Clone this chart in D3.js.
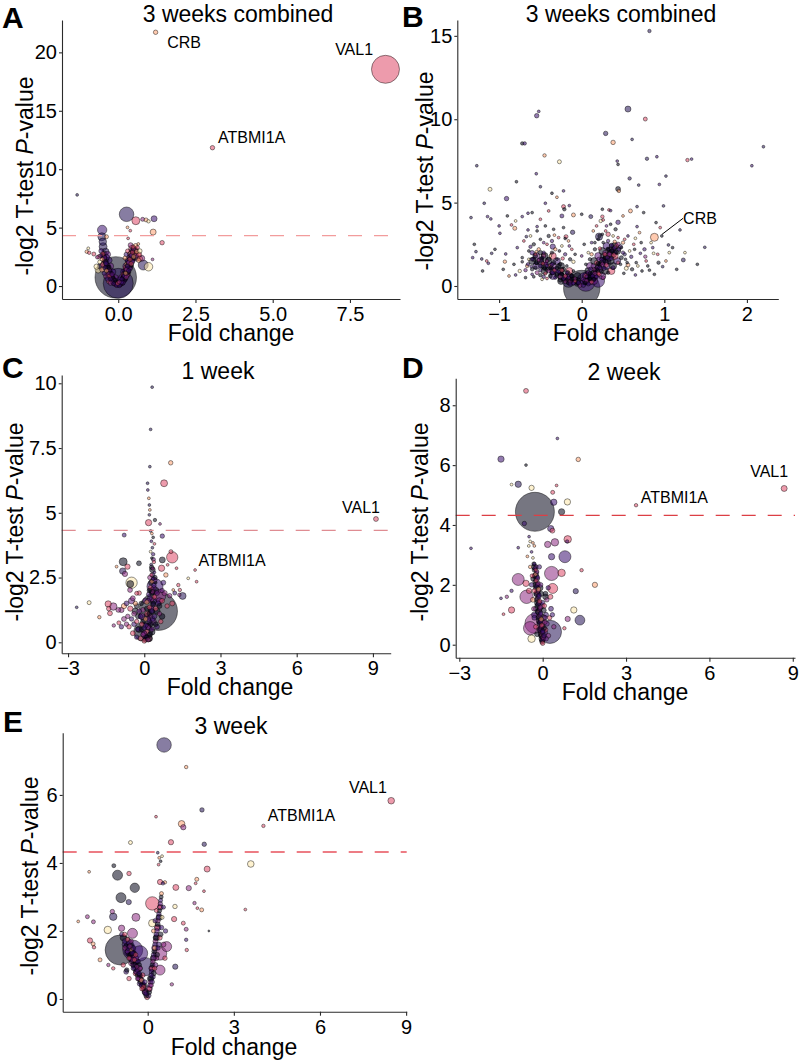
<!DOCTYPE html>
<html>
<head>
<meta charset="utf-8">
<script src="https://cdn.jsdelivr.net/npm/d3@7"></script>
<style>
  body { margin: 0; background: #fff; }
</style>
</head>
<body>
<svg id="fig" width="800" height="1063"></svg>
<script>
// ---- data: [fold change, -log2 p, abundance, tone, gene] ----
const titles = ["3 weeks combined", "3 weeks combined", "1 week", "2 week", "3 week"];
const pCutoff = 0.05;

const pointsA = [
  [8.65,18.55,196,0.6,"VAL1"],[1.21,21.72,5,0.8,"CRB"],[3.05,11.84,5,0.6,"ATBMI1A"],
  [-1.33,7.8,2,0.15],[0.27,6.14,53,0.15],[0.57,5.59,16,0.6],[0.79,5.71,4,0.4],[0.9,5.66,4,0.8],
  [0.98,5.54,3,0.95],[1.16,5.76,9,0.2],[1.13,4.62,9,0.8],[1.42,3.71,5,0.6],[0.3,5.02,2,0.8],
  [0.39,4.74,2,0.6],[0.65,3.6,2,0.8],[0.32,4.08,2,0.6],[1.11,2.28,2,0.4],[0.98,1.65,18,0.95],
  [0.81,1.8,25,0.15],[0.76,2.37,9,0.4],[-0.52,4.8,22,0.2],[-0.53,4.22,16,0.15],[-0.5,3.79,14,0.15],
  [-0.49,3.37,16,0.15],[-0.41,2.94,12,0.15],[-0.38,2.46,9,0.2],[-0.38,4.22,4,0.8],[-1.02,2.94,3,0.8],
  [-0.97,3.23,2,0.95],[-0.79,2.74,4,0.6],[-0.94,2.85,3,0.6],[-0.68,2.46,3,0.4],[-0.7,1.66,7,0.95],
  [-0.65,1.37,9,0.95],[-0.08,0.74,430,0.05],[0.0,0.23,225,0.15],[0.45,3.2,12,0.6],[0.55,2.9,9,0.4],
  [0.6,2.6,16,0.8],[0.7,2.35,7,0.6],[0.66,2.2,5,0.8],
  [-0.55,3.0,6,0.2],[-0.5,2.75,5,0.6],[-0.47,2.5,7,0.2],[-0.52,2.3,4,0.8],[-0.44,2.2,6,0.4],
  [-0.4,1.95,5,0.2],[-0.48,1.85,8,0.6],[-0.36,1.7,6,0.4],[-0.42,1.55,5,0.2],[-0.32,1.45,7,0.6],
  [-0.38,1.3,4,0.8],[-0.28,1.2,6,0.2],[-0.33,1.05,5,0.4],[-0.24,0.95,7,0.2],[-0.29,0.82,5,0.6],
  [-0.2,0.72,6,0.4],[-0.25,0.6,4,0.2],[-0.16,0.5,6,0.6],[-0.2,0.4,5,0.2],[-0.12,0.32,7,0.4],
  [-0.15,0.2,4,0.2],[-0.08,0.15,6,0.6],[-0.05,0.06,5,0.2],[-0.6,2.05,4,0.95],[-0.58,1.7,9,0.15],
  [-0.52,1.4,6,0.8],[-0.45,1.1,5,0.2],[-0.4,0.85,6,0.4],[-0.35,0.6,5,0.2],[-0.3,0.4,6,0.6],
  [-0.25,0.25,5,0.4],[-0.62,2.5,5,0.6],[-0.57,2.6,4,0.2],
  [0.04,0.05,5,0.2],[0.08,0.18,6,0.4],[0.1,0.3,5,0.2],[0.14,0.45,7,0.6],[0.12,0.6,4,0.2],
  [0.17,0.7,6,0.4],[0.2,0.85,5,0.2],[0.18,1.0,7,0.6],[0.24,1.1,4,0.8],[0.22,1.25,6,0.2],
  [0.27,1.4,5,0.4],[0.25,1.55,7,0.6],[0.3,1.7,5,0.2],[0.28,1.85,6,0.8],[0.34,2.0,5,0.4],
  [0.32,2.15,7,0.2],[0.38,2.3,5,0.6],[0.36,2.45,6,0.4],[0.42,2.6,5,0.2],[0.4,2.75,7,0.8],
  [0.46,2.9,5,0.6],[0.44,3.05,6,0.2],[0.5,3.2,5,0.4],[0.48,3.35,4,0.6],[0.55,3.1,6,0.2],
  [0.52,2.85,7,0.6],[0.5,2.5,5,0.8],[0.46,2.2,6,0.2],[0.42,1.9,5,0.6],[0.38,1.6,7,0.4],
  [0.34,1.3,5,0.2],[0.3,1.0,6,0.6],[0.26,0.75,5,0.4],[0.2,0.5,6,0.2],[0.58,2.6,6,0.4],
  [0.6,2.95,5,0.8],[0.3,3.0,4,0.6],[0.26,2.7,5,0.2],[0.22,2.4,4,0.8],[0.62,3.3,4,0.6],
  [0.56,3.45,5,0.8],[0.4,3.5,6,0.4],[0.7,3.0,5,0.95],[0.68,2.7,6,0.6],
  [0.0,0.1,6,0.2],[-0.02,0.25,5,0.6],[0.03,0.35,4,0.4],
  [-0.5,2.6,6,0.05],[-0.45,2.4,6,0.3],[-0.42,2.1,6,0.05],[-0.38,1.85,6,0.2],[-0.35,1.6,6,0.05],
  [-0.3,1.35,6,0.3],[-0.27,1.1,6,0.05],[-0.22,0.85,6,0.2],[-0.18,0.65,6,0.05],[-0.13,0.45,6,0.3],
  [-0.09,0.3,6,0.05],[-0.04,0.15,6,0.2],[0.06,0.15,6,0.05],[0.1,0.4,6,0.3],[0.15,0.65,6,0.05],
  [0.19,0.9,6,0.2],[0.23,1.15,6,0.05],[0.27,1.45,6,0.3],[0.31,1.75,6,0.05],[0.35,2.05,6,0.2],
  [0.39,2.35,6,0.05],[0.43,2.65,6,0.3],[0.47,2.95,6,0.05],[0.15,0.3,6,0.2],[0.22,0.6,6,0.05],
  [0.28,0.9,6,0.3],[0.33,1.2,6,0.05],[0.38,1.5,6,0.2],[0.42,1.8,6,0.05],[0.46,2.1,6,0.3],
  [0.5,2.4,6,0.05],[-0.1,0.5,5,0.05],[-0.2,1.0,5,0.3],[-0.3,1.6,5,0.05],[0.05,0.6,5,0.2],
  [-0.45,2.7,10,0.05],[-0.35,2.7,10,0.3],[-0.4,2.2,10,0.05],[-0.3,2.2,10,0.2],[-0.35,1.7,10,0.05],
  [-0.25,1.7,10,0.3],[-0.28,1.2,10,0.05],[-0.18,1.2,10,0.2],[-0.2,0.7,10,0.05],[-0.1,0.7,10,0.3],
  [-0.12,0.3,10,0.05],[0.12,0.3,10,0.2],[0.2,0.7,10,0.05],[0.1,0.7,10,0.3],[0.28,1.2,10,0.05],
  [0.18,1.2,10,0.2],[0.35,1.7,10,0.05],[0.25,1.7,10,0.3],[0.42,2.2,10,0.05],[0.32,2.2,10,0.2],
  [0.5,2.7,10,0.05],[0.4,2.7,10,0.3],[0.52,3.1,10,0.05],[0.6,2.4,10,0.2]
];

const pointsB = [
  [0.0,-0.15,330,0.05],[0.2,0.3,40,0.2],[-0.16,0.3,40,0.15],[0.05,0.25,90,0.2],
  [0.82,15.29,3,0.15],[0.56,10.61,9,0.15],[-0.545,10.21,5,0.2],[-0.52,10.47,2,0.2],[0.77,10.01,4,0.6],
  [-0.72,8.55,3,0.05],[-0.69,8.55,3,0.2],[0.29,9.15,5,0.15],[0.38,8.61,5,0.8],[0.61,8.79,2,0.15],
  [2.2,8.35,2,0.15],[-0.45,7.83,3,0.8],[-1.27,7.21,2,0.15],[-0.27,7.45,4,0.95],[0.79,7.63,3,0.15],
  [0.91,7.75,2,0.2],[1.33,7.61,2,0.2],[1.28,7.55,3,0.6],[2.06,7.21,2,0.2],[0.43,7.49,2,0.2],
  [0.44,7.29,2,0.05],[-0.79,6.25,2,0.05],[-0.55,6.73,2,0.2],[0.58,6.45,3,0.15],[1.02,6.59,2,0.15],
  [0.69,6.05,2,0.15],[0.94,6.09,2,0.2],[-1.11,5.8,4,0.95],[-0.91,5.24,5,0.2],[-1.18,4.96,2,0.15],
  [-0.5,5.95,2,0.15],[-0.36,5.56,2,0.05],[-0.22,5.7,2,0.2],[-0.3,5.32,2,0.8],[0.44,5.82,6,0.05],
  [0.45,5.7,3,0.8],[0.99,4.8,2,0.15],[0.59,4.5,4,0.8],[0.67,4.76,2,0.15],[-1.34,4.1,2,0.15],
  [-1.14,4.16,2,0.2],[-1.1,4.02,2,0.2],[-0.81,3.46,4,0.8],[-0.99,3.16,2,0.2],[-0.85,3.66,2,0.6],
  [-0.72,4.16,2,0.2],[-0.65,4.36,2,0.2],[-0.44,4.96,2,0.2],[-0.4,4.5,2,0.6],[-0.22,4.76,4,0.6],
  [-0.21,4.6,3,0.05],[-0.15,4.82,2,0.2],[-0.1,4.26,4,0.8],[-0.24,4.2,4,0.2],[0.11,4.16,4,0.15],
  [0.25,4.16,3,0.6],[0.26,3.96,2,0.6],[0.33,4.56,2,0.6],[0.35,4.52,2,0.2],[0.44,3.82,5,0.2],
  [0.32,3.1,5,0.6],[0.21,2.96,13,0.15],[0.215,3.0,3,0.05],[0.88,2.92,16,0.8,"CRB"],[-0.11,3.22,5,0.15],
  [-0.19,2.96,4,0.6],[-0.35,2.36,7,0.2],[-0.46,1.86,5,0.8],[-0.54,3.56,2,0.2],[-0.65,3.36,2,0.2],
  [-0.67,2.96,2,0.15],[-0.92,1.92,2,0.2],[-0.93,1.46,3,0.8],[-1.09,1.96,2,0.15],[-1.13,1.36,2,0.2],
  [-1.21,1.62,2,0.15],[-1.32,1.7,2,0.2],[-1.28,2.06,2,0.15],[-0.8,0.66,2,0.2],[-0.61,1.16,2,0.2],
  [0.47,2.36,4,0.2],[0.52,1.9,3,0.15],[0.65,2.86,2,0.95],[0.67,3.56,2,0.2],[0.71,1.96,2,0.2],
  [0.77,1.76,3,0.4],[0.87,1.96,2,0.95],[0.93,1.4,3,0.05],[0.98,1.16,2,0.15],[1.05,2.46,2,0.15],
  [1.06,2.0,2,0.95],[1.23,1.56,4,0.15],[1.49,2.32,2,0.15],[0.95,3.5,2,0.6],[1.19,3.36,2,0.15],
  [0.56,1.26,4,0.8],[0.54,1.06,4,0.95],[0.51,0.76,2,0.05],[0.65,0.66,2,0.2],
  [-0.95,1.0,2,0.05],[-0.88,0.6,2,0.8],[-0.82,1.3,2,0.05],[-0.78,2.3,2,0.2],[-0.75,0.9,3,0.95],
  [-0.72,1.7,2,0.05],[-0.7,2.7,2,0.6],[-0.68,0.5,2,0.05],[-0.66,1.2,3,0.8],[-0.64,2.1,2,0.05],
  [-0.62,3.0,2,0.95],[-0.6,0.7,2,0.2],[-0.58,2.5,3,0.05],[-0.56,1.9,2,0.6],[-0.54,3.3,2,0.05],
  [-0.52,2.2,3,0.8],[-0.5,2.8,2,0.05],[-0.48,0.4,2,0.95],[-0.46,2.0,3,0.2],[-0.44,3.6,2,0.05],
  [-0.42,2.5,2,0.6],[-0.4,3.0,3,0.05],[-0.38,1.8,2,0.95],[-0.36,2.7,3,0.2],[-0.34,3.4,2,0.05],
  [-0.32,2.2,3,0.8],[-0.3,1.6,2,0.05],[-0.28,2.9,2,0.6],[-0.26,1.3,3,0.05],[-0.24,2.4,2,0.95],
  [-0.22,3.5,2,0.05],[-0.2,1.9,3,0.2],[-0.18,1.2,2,0.05],[-0.16,2.7,2,0.8],[-0.14,1.6,3,0.05],
  [-0.12,2.2,2,0.6],[-0.1,0.9,2,0.05],[0.05,1.3,2,0.05],[0.08,2.0,2,0.95],[0.1,1.6,3,0.05],
  [0.12,2.6,2,0.2],[0.14,3.3,2,0.8],[0.16,2.2,3,0.05],[0.18,3.6,2,0.6],[0.2,2.8,2,0.05],
  [0.23,3.9,3,0.95],[0.26,2.6,2,0.05],[0.29,3.3,2,0.6],[0.32,2.7,3,0.2],[0.35,3.7,2,0.05],
  [0.38,3.0,2,0.95],[0.41,3.4,3,0.05],[0.44,2.9,2,0.6],[0.47,1.3,2,0.05],[0.5,2.6,3,0.8],
  [0.53,1.6,2,0.05],[0.56,3.0,2,0.2],[0.58,2.1,2,0.95],[0.61,1.0,3,0.05],[0.63,2.5,2,0.6],
  [0.66,1.4,2,0.05],[0.7,3.2,2,0.8],[0.73,0.9,2,0.05],[0.76,2.2,3,0.2],[0.8,1.2,2,0.05],
  [0.84,2.6,2,0.95],[0.88,0.7,2,0.05],[0.92,1.9,2,0.6],[0.97,3.0,2,0.05],[1.02,1.5,2,0.8],
  [1.1,2.3,2,0.05],[1.15,1.0,2,0.05],[1.25,2.0,2,0.95],[1.4,1.3,2,0.05],[-1.05,2.2,2,0.05],
  [-1.15,1.5,2,0.6],[-1.2,0.9,2,0.05],[-1.3,2.5,2,0.05],[-1.0,3.6,2,0.2],[-0.9,4.2,2,0.05],
  [-0.8,3.9,2,0.95],[-0.6,4.4,2,0.05],[-0.5,4.0,2,0.6],[0.0,4.3,2,0.05],[0.25,4.6,2,0.05],
  [0.5,4.2,2,0.8],[0.75,4.4,2,0.05],[0.9,3.8,2,0.05],
  [-0.72,1.45,2,0.05],[-0.68,0.95,3,0.3],[-0.64,1.6,2,0.95],[-0.62,2.35,3,0.2],[-0.58,0.55,2,0.05],
  [-0.55,2.05,2,0.8],[-0.5,0.65,3,0.05],[-0.46,2.6,2,0.3],[-0.42,0.45,2,0.6],[-0.36,2.0,3,0.05],
  [-0.33,3.05,2,0.8],[-0.27,2.1,2,0.05],[-0.23,1.65,3,0.6],[-0.2,2.85,2,0.05],[-0.15,2.4,2,0.3],
  [-0.1,1.45,3,0.95],[-0.08,1.9,2,0.05],[0.0,1.8,2,0.3],[0.03,2.5,2,0.05],[0.12,1.9,3,0.8],
  [0.16,2.6,2,0.05],[0.22,2.25,3,0.6],[0.25,3.1,2,0.05],[0.3,3.6,2,0.3],[0.4,2.65,3,0.8],
  [0.48,2.3,2,0.05],[0.52,2.8,2,0.6],[0.55,1.4,2,0.05],[0.6,1.75,3,0.2],[0.64,2.2,2,0.05],
  [0.68,1.2,2,0.95],[0.72,2.6,2,0.05],[0.78,1.5,2,0.6],[0.82,0.95,2,0.05],[0.86,2.3,2,0.2],
  [-0.25,0.3,12,0.05],[-0.15,0.3,12,0.3],[-0.05,0.3,12,0.05],[-0.35,0.6,12,0.2],[-0.25,0.6,12,0.05],
  [-0.15,0.6,12,0.3],[-0.05,0.6,12,0.05],[-0.45,0.9,12,0.05],[-0.35,0.9,12,0.3],[-0.25,0.9,12,0.05],
  [-0.15,0.9,12,0.6],[-0.55,1.2,12,0.2],[-0.45,1.2,12,0.05],[-0.35,1.2,12,0.3],[-0.25,1.2,12,0.05],
  [-0.6,1.5,12,0.05],[-0.5,1.5,12,0.3],[-0.4,1.5,12,0.05],[-0.3,1.5,12,0.2],[-0.55,1.8,12,0.3],
  [-0.45,1.8,12,0.05],[-0.35,1.8,12,0.6],[0.05,0.3,12,0.05],[0.15,0.3,12,0.3],[0.05,0.6,12,0.2],
  [0.15,0.6,12,0.05],[0.25,0.6,12,0.3],[0.08,0.9,12,0.05],[0.18,0.9,12,0.3],[0.28,0.9,12,0.05],
  [0.36,0.9,12,0.6],[0.1,1.2,12,0.3],[0.2,1.2,12,0.05],[0.3,1.2,12,0.2],[0.38,1.2,12,0.05],
  [0.15,1.5,12,0.05],[0.25,1.5,12,0.3],[0.35,1.5,12,0.05],[0.43,1.5,12,0.2],[0.2,1.8,12,0.3],
  [0.3,1.8,12,0.05],[0.4,1.8,12,0.6],[0.25,2.1,12,0.05],[0.35,2.1,12,0.3],[0.43,2.1,12,0.05],
  [0.3,2.4,12,0.2],[0.4,2.4,12,0.05],
  [-0.16,0.2,5,0.05],[-0.1,0.2,5,0.3],[-0.04,0.2,5,0.05],[0.0,0.2,5,0.2],[0.05,0.2,5,0.05],
  [0.1,0.2,5,0.3],[-0.22,0.4,5,0.05],[-0.15,0.4,5,0.6],[-0.08,0.4,5,0.05],[0.02,0.4,5,0.3],
  [0.08,0.4,5,0.05],[0.14,0.4,5,0.2],[-0.3,0.6,5,0.05],[-0.2,0.6,5,0.3],[-0.12,0.6,5,0.05],
  [0.05,0.6,5,0.6],[0.11,0.6,5,0.05],[0.17,0.6,5,0.3],[-0.36,0.8,5,0.05],[-0.26,0.8,5,0.2],
  [-0.17,0.8,5,0.05],[0.08,0.8,5,0.3],[0.14,0.8,5,0.05],[0.2,0.8,5,0.6],[-0.42,1.0,5,0.05],
  [-0.32,1.0,5,0.3],[-0.22,1.0,5,0.05],[0.11,1.0,5,0.2],[0.17,1.0,5,0.05],[0.23,1.0,5,0.3],
  [-0.48,1.2,5,0.05],[-0.38,1.2,5,0.6],[-0.28,1.2,5,0.05],[0.14,1.2,5,0.3],[0.2,1.2,5,0.05],
  [0.26,1.2,5,0.2],[-0.54,1.4,5,0.05],[-0.44,1.4,5,0.3],[-0.34,1.4,5,0.05],[0.18,1.4,5,0.6],
  [0.24,1.4,5,0.05],[0.3,1.4,5,0.3],[-0.58,1.6,5,0.05],[-0.49,1.6,5,0.2],[-0.4,1.6,5,0.05],
  [0.21,1.6,5,0.3],[0.27,1.6,5,0.05],[0.33,1.6,5,0.2],[-0.56,1.8,5,0.05],[-0.46,1.8,5,0.3],
  [0.25,1.8,5,0.05],[0.31,1.8,5,0.6],[0.37,1.8,5,0.05],[-0.6,2.0,5,0.2],[-0.5,2.0,5,0.05],
  [0.28,2.0,5,0.3],[0.34,2.0,5,0.05],[0.4,2.0,5,0.2],[0.32,2.2,5,0.05],[0.38,2.2,5,0.3],
  [0.36,2.4,5,0.05],[0.42,2.4,5,0.6],[-0.13,0.3,5,0.05],[-0.19,0.5,5,0.3],[-0.25,0.7,5,0.05],
  [-0.31,0.9,5,0.2],[-0.37,1.1,5,0.05],[-0.43,1.3,5,0.3],[-0.49,1.5,5,0.05],[0.04,0.3,5,0.3],
  [0.1,0.5,5,0.05],[0.13,0.7,5,0.2],[0.16,0.9,5,0.05],[0.19,1.1,5,0.3],[0.22,1.3,5,0.05],
  [0.26,1.5,5,0.2],[0.29,1.7,5,0.05],[0.33,1.9,5,0.3],[0.36,2.1,5,0.05],
  [-0.6,1.6,3,0.2],[-0.55,1.4,4,0.05],[-0.52,1.55,3,0.4],[-0.5,1.2,4,0.2],[-0.47,1.35,3,0.6],
  [-0.45,1.05,4,0.05],[-0.42,1.2,3,0.2],[-0.4,0.9,4,0.4],[-0.38,1.05,3,0.05],[-0.35,0.8,5,0.2],
  [-0.33,0.95,3,0.6],[-0.3,0.7,4,0.05],[-0.28,0.85,4,0.2],[-0.26,0.55,5,0.4],[-0.24,0.7,3,0.05],
  [-0.22,0.45,4,0.2],[-0.2,0.6,4,0.6],[-0.18,0.35,5,0.05],[-0.16,0.5,3,0.2],[-0.14,0.25,4,0.4],
  [-0.12,0.4,4,0.05],[-0.1,0.18,5,0.2],[-0.08,0.3,3,0.6],[-0.06,0.1,4,0.05],[-0.04,0.2,4,0.2],
  [-0.02,0.05,5,0.4],[-0.56,1.1,3,0.05],[-0.5,0.95,3,0.2],[-0.44,0.75,3,0.6],[-0.38,0.6,4,0.05],
  [-0.32,0.5,3,0.2],[-0.26,0.35,4,0.05],[-0.2,0.25,3,0.4],[-0.14,0.12,4,0.2],[-0.48,1.7,3,0.05],
  [-0.42,1.5,3,0.4],[-0.36,1.3,4,0.2],[-0.3,1.1,3,0.05],[-0.24,0.95,4,0.6],[-0.18,0.8,3,0.2],
  [-0.12,0.6,4,0.05],[-0.08,0.45,3,0.4],[-0.65,1.3,3,0.2],[-0.6,1.0,3,0.05],[-0.54,0.8,4,0.4],
  [-0.46,0.55,3,0.2],
  [0.02,0.05,5,0.2],[0.04,0.18,4,0.05],[0.06,0.3,5,0.4],[0.08,0.12,4,0.2],[0.1,0.42,4,0.05],
  [0.12,0.25,5,0.6],[0.13,0.6,4,0.2],[0.15,0.4,4,0.05],[0.16,0.75,5,0.4],[0.18,0.55,4,0.2],
  [0.19,0.95,4,0.05],[0.21,0.7,5,0.6],[0.22,1.1,4,0.2],[0.24,0.88,4,0.05],[0.25,1.3,5,0.4],
  [0.27,1.05,4,0.2],[0.28,1.5,4,0.05],[0.3,1.25,5,0.6],[0.31,1.7,4,0.2],[0.33,1.45,4,0.05],
  [0.34,1.9,5,0.4],[0.36,1.65,4,0.2],[0.37,2.1,4,0.05],[0.39,1.85,5,0.6],[0.4,2.3,4,0.2],
  [0.42,2.05,4,0.05],[0.44,2.5,5,0.4],[0.45,2.2,4,0.2],[0.2,1.35,4,0.05],[0.24,1.6,3,0.2],
  [0.28,1.9,4,0.6],[0.32,2.2,3,0.05],[0.36,2.45,4,0.2],[0.26,0.5,4,0.4],[0.32,0.8,3,0.05],
  [0.38,1.1,4,0.2],[0.44,1.4,3,0.6],[0.48,1.7,4,0.05],[0.5,2.0,3,0.2],[0.15,1.0,3,0.4],
  [0.1,0.75,4,0.05],[0.06,0.55,3,0.2]
];

const pointsC = [
  [9.12,4.76,6,0.6,"VAL1"],[2.0,2.79,2,0.6,"ATBMI1A"],[2.06,2.34,2,0.6],
  [0.31,9.85,2,0.15],[0.25,8.22,2,0.15],[0.22,6.78,2,0.15],[1.04,6.93,5,0.8],[0.78,6.14,12,0.6],
  [0.13,6.14,2,0.15],[0.14,5.88,2,0.2],[0.18,5.56,2,0.8],[0.2,5.3,2,0.15],[0.22,5.11,2,0.8],
  [0.2,4.92,2,0.15],[0.17,4.62,10,0.6],[0.42,4.72,3,0.05],[0.62,4.57,2,0.4],[-0.79,4.14,4,0.2],
  [0.71,4.1,5,0.2],[0.25,4.3,2,0.15],[0.3,4.2,2,0.8],[0.35,4.05,2,0.05],[0.28,3.9,2,0.2],
  [0.4,3.8,2,0.6],[0.32,3.65,2,0.15],[0.25,3.5,2,0.95],[0.35,3.4,3,0.2],[0.3,3.25,2,0.05],
  [0.38,3.1,3,0.6],[0.27,3.0,2,0.15],[0.33,2.85,3,0.4],[0.4,2.7,2,0.2],[0.28,2.6,3,0.6],
  [0.35,2.45,3,0.2],[0.45,2.3,2,0.05],[1.1,3.28,32,0.6],[1.05,3.5,4,0.6],[0.71,3.18,9,0.05],
  [-0.83,3.11,16,0.05],[-0.21,3.05,6,0.05],[-1.09,2.92,2,0.8],[-0.66,2.92,7,0.6],[-0.85,2.75,10,0.15],
  [-0.76,2.64,7,0.4],[-0.5,2.3,32,0.95],[-0.55,2.25,12,0.05],[-0.3,1.89,4,0.6],[-0.56,2.02,6,0.4],
  [0.68,2.86,10,0.6],[0.92,2.99,2,0.6],[1.27,2.86,2,0.6],[1.73,2.47,2,0.95],[1.34,2.21,3,0.6],
  [1.4,2.02,3,0.6],[1.14,2.02,2,0.8],[1.51,1.79,12,0.15],[1.38,1.83,3,0.4],[0.55,1.2,370,0.05],
  [0.42,2.15,64,0.2],[0.6,1.8,40,0.4],[-1.42,1.48,10,0.6],[-1.22,1.38,14,0.4],[-1.35,1.12,6,0.6],
  [-1.4,1.3,5,0.6],[-1.02,1.25,6,0.4],[-2.66,1.35,2,0.15],[-2.17,1.53,4,0.95],[-1.77,0.97,3,0.8],
  [-0.9,1.25,7,0.4],[-0.8,1.4,7,0.8],[-1.0,0.75,4,0.6],[-1.2,0.65,3,0.4],[-0.7,0.7,5,0.4],
  [-0.04,0.41,90,0.05],[0.16,0.15,12,0.6],
  [0.0,0.05,5,0.6],[0.05,0.2,6,0.2],[-0.05,0.3,5,0.4],[0.1,0.4,6,0.6],[0.0,0.55,5,0.2],
  [0.15,0.6,7,0.4],[-0.1,0.7,5,0.6],[0.2,0.8,6,0.2],[0.05,0.9,5,0.8],[0.25,1.0,6,0.4],
  [-0.15,1.0,5,0.2],[0.12,1.1,7,0.6],[0.3,1.2,5,0.2],[-0.05,1.25,6,0.4],[0.2,1.35,5,0.6],
  [0.35,1.45,6,0.2],[0.1,1.55,5,0.8],[0.28,1.65,6,0.4],[0.4,1.75,5,0.6],[0.18,1.85,6,0.2],
  [0.32,1.95,5,0.4],[0.25,2.1,6,0.6],[0.38,2.2,5,0.2],[0.3,2.35,4,0.8],[0.22,2.5,5,0.4],
  [0.45,1.3,6,0.6],[0.55,1.5,7,0.2],[0.6,1.1,5,0.4],[0.7,1.6,6,0.6],[0.8,1.9,7,0.4],
  [0.9,1.4,5,0.6],[0.75,2.3,6,0.2],[0.65,0.8,5,0.6],[0.5,0.6,6,0.2],[0.85,2.6,5,0.8],
  [1.0,1.8,5,0.4],[1.1,1.5,6,0.6],[1.2,1.9,4,0.2],[-0.25,0.5,6,0.2],[-0.3,0.8,5,0.6],
  [-0.4,1.1,6,0.4],[-0.5,0.9,5,0.2],[-0.55,1.3,7,0.6],[-0.65,1.0,5,0.4],[-0.7,1.5,6,0.2],
  [-0.35,1.5,5,0.8],[-0.45,1.7,6,0.4],[-0.2,1.9,5,0.6],[-0.6,0.6,5,0.6],[-0.8,0.9,6,0.4],
  [-0.9,0.6,5,0.2],[-0.15,0.15,6,0.6],[0.15,0.1,5,0.4],[-0.3,0.2,5,0.2],[-0.45,0.35,6,0.6],
  [0.22,0.3,6,0.05],[0.3,0.5,6,0.3],[0.25,0.7,6,0.05],[0.33,0.9,6,0.2],[0.2,1.1,6,0.05],
  [0.28,1.3,6,0.3],[0.35,1.5,6,0.05],[0.22,1.7,6,0.2],[0.3,1.9,6,0.05],[0.38,2.1,6,0.3],
  [0.26,2.3,6,0.05],[0.33,2.6,5,0.2],[0.29,2.9,5,0.05],[0.36,3.2,4,0.3],[0.1,0.2,6,0.05],
  [0.0,0.35,6,0.3],[-0.1,0.5,6,0.05],[0.05,0.65,6,0.2],[-0.05,0.8,6,0.05],[0.15,0.9,6,0.3],
  [0.1,1.3,6,0.05],[0.4,1.0,6,0.2],[0.45,0.7,6,0.05],[0.5,1.9,6,0.3],[0.42,2.5,5,0.05],
  [-0.2,1.2,6,0.3],[-0.3,1.4,6,0.05],[-0.4,0.7,6,0.2],[-0.25,1.0,6,0.05],[0.2,2.0,5,0.05],
  [0.15,1.6,6,0.3],[-0.12,1.5,5,0.05],[0.6,1.4,6,0.05],[0.7,2.0,5,0.3],[0.05,0.1,6,0.05],
  [0.3,0.4,10,0.05],[0.35,0.8,10,0.3],[0.28,1.2,10,0.05],[0.36,1.6,10,0.2],[0.3,2.0,10,0.05],
  [0.38,2.4,10,0.3],[0.32,2.8,8,0.05],[0.0,0.3,10,0.3],[-0.2,0.5,10,0.05],[0.15,0.6,10,0.2],
  [0.1,1.0,10,0.05],[-0.1,1.0,10,0.3],[0.5,1.2,10,0.05],[0.6,1.6,10,0.3],[0.45,2.0,10,0.05],
  [-0.35,1.2,10,0.05],[-0.5,1.6,10,0.3],[0.2,0.15,10,0.05],[0.05,1.6,8,0.3],[0.7,1.0,8,0.05]
];

const pointsD = [
  [8.69,5.22,9,0.6,"VAL1"],[3.36,4.66,3,0.6,"ATBMI1A"],
  [-0.6,8.48,6,0.6],[0.53,6.89,2,0.2],[-1.5,6.2,10,0.2],[-0.6,6.0,2,0.05],[1.28,6.19,5,0.8],
  [-0.88,5.36,10,0.15],[-1.12,5.35,2,0.95],[-0.4,5.24,7,0.95],[0.36,5.09,4,0.6],[0.5,5.32,2,0.6],
  [0.89,4.77,10,0.95],[0.4,4.76,10,0.2],[-0.28,4.44,380,0.05],[0.68,4.44,10,0.05],[-0.66,4.05,5,0.2],
  [0.29,3.88,10,0.2],[0.35,3.81,6,0.6],[-0.49,3.61,2,0.2],[-0.88,3.24,2,0.2],[-2.58,3.22,2,0.2],
  [0.44,3.42,14,0.4],[0.9,3.52,14,0.6],[0.88,3.45,3,0.2],[0.18,3.35,10,0.4],[0.32,2.94,10,0.2],
  [0.8,2.94,36,0.2],[1.4,2.49,3,0.6],[1.88,2.0,7,0.8],[-0.88,2.18,36,0.4],[0.32,2.38,50,0.4],
  [0.68,2.4,14,0.6],[0.36,1.88,25,0.6],[-0.6,2.05,10,0.6],[-0.49,1.8,7,0.6],[-0.58,1.6,45,0.4],
  [-1.12,1.8,3,0.2],[-1.5,1.55,2,0.2],[-1.29,1.6,3,0.4],[-1.12,1.16,10,0.6],[-1.41,1.02,2,0.6],
  [1.19,1.79,7,0.15],[1.12,1.16,10,0.95],[1.34,0.82,24,0.15],[0.9,0.86,7,0.4],[0.78,0.55,3,0.6],
  [0.26,0.43,135,0.15],[-0.28,0.71,100,0.4],[-0.45,0.55,45,0.4],[-0.4,0.2,14,0.95],
  [-0.45,3.45,2,0.95],[-0.35,3.4,2,0.8],[-0.5,3.3,2,0.95],[-0.3,3.3,2,0.8],[-0.4,3.1,2,0.2],
  [-0.55,2.95,2,0.8],[-0.35,2.9,2,0.95],[-0.3,2.7,3,0.2],[-0.45,2.6,3,0.8],[-0.25,2.5,3,0.6],
  [0.0,0.05,5,0.6],[-0.02,0.15,6,0.2],[0.02,0.25,5,0.4],[-0.05,0.35,6,0.6],[0.0,0.45,5,0.2],
  [-0.08,0.55,6,0.4],[-0.03,0.65,5,0.6],[-0.1,0.75,6,0.2],[-0.05,0.85,5,0.8],[-0.12,0.95,6,0.4],
  [-0.07,1.05,5,0.2],[-0.14,1.15,6,0.6],[-0.09,1.25,5,0.4],[-0.16,1.35,6,0.2],[-0.11,1.45,5,0.6],
  [-0.18,1.55,6,0.4],[-0.13,1.65,5,0.2],[-0.2,1.75,6,0.6],[-0.15,1.85,5,0.8],[-0.22,1.95,6,0.2],
  [-0.17,2.05,5,0.4],[-0.24,2.15,5,0.6],[-0.19,2.25,5,0.2],[-0.26,2.35,4,0.8],[-0.21,2.45,4,0.4],
  [-0.28,2.55,4,0.2],[0.05,0.3,5,0.2],[0.1,0.5,6,0.6],[0.08,0.75,5,0.4],[0.12,1.0,6,0.2],
  [0.06,1.3,5,0.6],[0.15,1.5,5,0.4],[-0.25,0.6,5,0.6],[-0.3,0.9,6,0.2],[-0.32,1.2,5,0.4],
  [-0.35,1.5,6,0.8],[-0.3,1.8,5,0.6],[0.2,0.3,6,0.4],[0.25,0.9,5,0.6],[0.3,1.2,6,0.2],
  [-0.4,2.0,5,0.2],[-0.38,2.3,4,0.6],[0.2,1.9,5,0.2],[0.28,1.6,6,0.6],[0.35,1.0,5,0.2],
  [0.4,0.6,5,0.4],
  [-0.02,0.1,6,0.05],[0.03,0.2,6,0.3],[-0.06,0.3,6,0.05],[0.0,0.4,6,0.2],[-0.1,0.5,6,0.05],
  [-0.04,0.6,6,0.3],[-0.12,0.7,6,0.05],[-0.06,0.8,6,0.2],[-0.15,0.9,6,0.05],[-0.08,1.0,6,0.3],
  [-0.17,1.1,6,0.05],[-0.1,1.2,6,0.2],[-0.19,1.3,6,0.05],[-0.12,1.4,6,0.3],[-0.21,1.5,6,0.05],
  [-0.14,1.6,6,0.2],[-0.23,1.7,6,0.05],[-0.16,1.8,6,0.3],[-0.25,1.9,6,0.05],[-0.18,2.0,6,0.2],
  [-0.27,2.1,6,0.05],[-0.2,2.2,6,0.3],[-0.29,2.3,5,0.05],[-0.22,2.4,5,0.2],[-0.3,2.5,5,0.05],
  [-0.24,2.6,5,0.3],[-0.32,2.7,4,0.05],[0.05,0.55,6,0.05],[0.08,0.9,6,0.3],[0.04,1.15,6,0.05],
  [-0.01,1.4,6,0.2],[-0.05,1.7,6,0.05],[-0.08,2.0,6,0.3],[-0.2,0.35,6,0.05],[0.12,0.2,6,0.3],
  [-0.25,1.2,6,0.05],[0.1,1.7,6,0.05],[-0.12,2.6,5,0.2],[-0.35,2.2,5,0.05],[0.15,0.7,6,0.3],
  [-0.02,0.2,10,0.05],[-0.08,0.5,10,0.3],[-0.12,0.8,10,0.05],[-0.15,1.1,10,0.2],[-0.18,1.4,10,0.05],
  [-0.2,1.7,10,0.3],[-0.23,2.0,10,0.05],[-0.26,2.3,10,0.2],[-0.3,2.6,8,0.05],[0.06,0.4,10,0.3],
  [0.02,0.9,10,0.05],[-0.05,1.3,10,0.3],[-0.1,1.9,10,0.05],[0.1,1.6,8,0.05],[-0.3,1.0,8,0.2]
];

const pointsE = [
  [8.48,5.83,11,0.6,"VAL1"],[4.03,5.09,3,0.6,"ATBMI1A"],
  [0.57,7.47,53,0.15],[1.34,6.82,3,0.8],[1.89,5.56,5,0.15],[0.29,5.36,2,0.6],[1.18,5.15,11,0.8],
  [1.24,5.05,7,0.4],[-0.6,4.6,4,0.95],[0.81,4.61,7,0.6],[1.97,4.55,5,0.15],[0.35,4.3,2,0.15],
  [0.4,4.15,2,0.8],[0.45,4.05,2,0.05],[0.5,4.2,2,0.95],[0.38,3.95,2,0.6],[3.59,3.97,11,0.95],
  [-1.18,3.92,4,0.05],[-2.04,3.74,2,0.8],[-1.05,3.64,25,0.05],[-0.65,3.69,5,0.6],[2.07,3.82,9,0.6],
  [0.43,3.44,7,0.6],[0.6,3.43,3,0.8],[0.53,3.4,3,0.2],[0.98,3.28,9,0.6],[-0.45,3.27,22,0.05],
  [1.43,3.26,7,0.4],[1.71,3.52,4,0.8],[1.67,3.4,2,0.6],[1.96,3.17,2,0.6],[-0.93,2.98,25,0.05],
  [-0.66,2.85,7,0.15],[0.16,2.81,45,0.6],[0.95,2.72,5,0.95],[1.63,2.82,3,0.4],[1.73,2.67,2,0.6],
  [1.88,2.62,4,0.8],[3.4,2.63,2,0.6],[-1.23,2.57,5,0.4],[-1.2,2.42,14,0.15],[-0.41,2.4,16,0.4],
  [-2.1,2.42,4,0.4],[-2.42,2.28,2,0.8],[-1.89,2.27,4,0.4],[-1.39,2.03,14,0.95],[-0.91,2.08,10,0.4],
  [-0.53,1.93,25,0.4],[0.16,2.23,14,0.95],[0.92,2.35,7,0.6],[1.24,2.23,4,0.6],[1.34,2.05,4,0.4],
  [2.13,2.0,1,0.05],[-2.01,1.72,7,0.6],[-1.9,1.62,4,0.8],[-1.87,1.52,3,0.6],[-1.66,1.15,4,0.8],
  [-0.96,1.44,225,0.05],[-0.52,1.44,100,0.2],[-0.27,1.34,60,0.2],[-0.09,0.95,85,0.15],
  [0.43,1.34,45,0.4],[0.66,1.54,25,0.4],[0.43,0.85,25,0.4],[0.96,0.95,7,0.15],[0.84,0.43,3,0.4],
  [1.36,1.44,3,0.6],[1.34,1.74,3,0.2],[-0.73,0.85,5,0.05],[-1.2,0.9,3,0.6],[-1.37,1.0,3,0.4],
  [-0.02,0.05,6,0.6],[-0.06,0.15,5,0.2],[-0.1,0.25,6,0.4],[-0.14,0.35,5,0.6],[-0.18,0.45,6,0.2],
  [-0.22,0.55,5,0.8],[-0.26,0.65,6,0.4],[-0.3,0.75,5,0.2],[-0.34,0.85,6,0.6],[-0.38,0.95,5,0.4],
  [-0.42,1.05,6,0.2],[-0.46,1.15,5,0.6],[-0.5,1.25,6,0.4],[-0.54,1.35,5,0.2],[-0.58,1.45,6,0.8],
  [-0.62,1.55,5,0.4],[-0.66,1.65,6,0.2],[-0.7,1.75,5,0.6],[-0.2,0.3,5,0.6],[-0.28,0.45,6,0.2],
  [-0.35,0.6,5,0.4],[-0.42,0.75,6,0.6],[-0.5,0.9,5,0.2],[-0.58,1.05,6,0.4],[-0.65,1.2,5,0.6],
  [-0.72,1.35,6,0.2],[-0.8,1.5,5,0.4],[-0.1,0.5,5,0.2],[-0.18,0.7,6,0.6],[-0.26,0.9,5,0.4],
  [-0.34,1.1,6,0.2],[-0.42,1.3,5,0.6],[-0.5,1.5,6,0.2],[-0.58,1.7,5,0.4],[-0.85,1.0,5,0.6],
  [-0.75,0.8,6,0.2],[-0.65,0.6,5,0.6],[-0.9,1.9,5,0.2],[-0.8,1.9,5,0.6],
  [0.03,0.1,6,0.2],[0.06,0.3,5,0.6],[0.09,0.5,6,0.4],[0.12,0.7,5,0.2],[0.15,0.9,6,0.6],
  [0.18,1.1,5,0.4],[0.21,1.3,6,0.2],[0.24,1.5,5,0.8],[0.27,1.7,6,0.4],[0.3,1.9,5,0.2],
  [0.33,2.1,6,0.6],[0.36,2.3,5,0.4],[0.39,2.5,5,0.2],[0.42,2.7,4,0.6],[0.45,2.9,4,0.2],
  [0.48,3.1,4,0.8],[0.12,0.4,5,0.4],[0.18,0.65,6,0.2],[0.24,0.9,5,0.6],[0.3,1.2,6,0.4],
  [0.36,1.5,5,0.2],[0.42,1.8,6,0.6],[0.48,2.1,5,0.2],[0.5,2.4,4,0.95],[0.55,2.7,4,0.2],
  [0.3,2.6,4,0.6],[0.26,2.3,5,0.2],[0.2,2.0,4,0.8],[0.55,1.6,6,0.4],[0.6,1.2,5,0.6],
  [0.62,2.0,5,0.2],
  [-0.05,0.1,6,0.05],[-0.1,0.2,6,0.3],[-0.15,0.3,6,0.05],[-0.2,0.4,6,0.2],[-0.25,0.5,6,0.05],
  [-0.3,0.6,6,0.3],[-0.35,0.7,6,0.05],[-0.4,0.8,6,0.2],[-0.45,0.9,6,0.05],[-0.5,1.0,6,0.3],
  [-0.55,1.1,6,0.05],[-0.6,1.2,6,0.2],[-0.65,1.3,6,0.05],[-0.7,1.4,6,0.3],[-0.75,1.55,6,0.05],
  [-0.8,1.7,6,0.2],[-0.12,0.4,6,0.05],[-0.2,0.55,6,0.3],[-0.28,0.7,6,0.05],[-0.36,0.85,6,0.2],
  [-0.44,1.0,6,0.05],[-0.52,1.15,6,0.3],[-0.6,1.3,6,0.05],[-0.68,1.5,6,0.2],[-0.3,1.0,6,0.05],
  [-0.4,1.2,6,0.3],[-0.48,1.35,6,0.05],[0.05,0.2,6,0.05],[0.08,0.4,6,0.3],[0.11,0.6,6,0.05],
  [0.14,0.8,6,0.2],[0.17,1.0,6,0.05],[0.2,1.2,6,0.3],[0.23,1.4,6,0.05],[0.26,1.6,6,0.2],
  [0.29,1.8,6,0.05],[0.32,2.0,6,0.3],[0.35,2.2,6,0.05],[0.38,2.4,5,0.2],[0.41,2.6,5,0.05],
  [0.44,2.8,5,0.3],[0.47,3.0,4,0.05],[0.15,0.5,6,0.2],[0.21,0.75,6,0.05],[0.27,1.0,6,0.3],
  [0.33,1.3,6,0.05],[0.39,1.6,6,0.2],[0.45,1.9,6,0.05],
  [-0.08,0.2,10,0.05],[-0.18,0.4,10,0.3],[-0.28,0.6,10,0.05],[-0.38,0.8,10,0.2],[-0.48,1.0,10,0.05],
  [-0.58,1.2,10,0.3],[-0.68,1.4,10,0.05],[-0.78,1.6,10,0.2],[-0.85,1.8,10,0.05],[-0.3,0.9,10,0.3],
  [-0.4,1.1,10,0.05],[-0.5,1.3,10,0.2],[-0.6,1.55,10,0.05],[0.05,0.3,10,0.3],[0.1,0.6,10,0.05],
  [0.15,0.9,10,0.2],[0.2,1.2,10,0.05],[0.25,1.5,10,0.3],[0.3,1.8,10,0.05],[0.35,2.1,10,0.2],
  [0.4,2.4,10,0.05],[0.44,2.7,8,0.3]
];

// ticks
const xTicksA = [0, 2.5, 5, 7.5],  xLabelsA = ["0.0", "2.5", "5.0", "7.5"];
const yTicksA = [0, 5, 10, 15, 20], yLabelsA = ["0", "5", "10", "15", "20"];
const xTicksB = [-1, 0, 1, 2],     xLabelsB = ["\u22121", "0", "1", "2"];
const yTicksB = [0, 5, 10, 15],    yLabelsB = ["0", "5", "10", "15"];
const xTicksC = [-3, 0, 3, 6, 9],  xLabelsC = ["\u22123", "0", "3", "6", "9"];
const yTicksC = [0, 2.5, 5, 7.5, 10], yLabelsC = ["0", "2.5", "5", "7.5", "10"];
const xTicksD = [-3, 0, 3, 6, 9],  xLabelsD = ["\u22123", "0", "3", "6", "9"];
const yTicksD = [0, 2, 4, 6, 8],   yLabelsD = ["0", "2", "4", "6", "8"];
const xTicksE = [0, 3, 6, 9],      xLabelsE = ["0", "3", "6", "9"];
const yTicksE = [0, 2, 4, 6],      yLabelsE = ["0", "2", "4", "6"];

// ---- layout ----
const FONT = "'Liberation Sans', Arial, Helvetica, sans-serif";

const panels = [
  { key: "A", data: pointsA, title: titles[0], left: 62, right: 400, top: 20, bottom: 299,
    xDom: [-1.82, 9.12], yDom: [-1.11, 22.77], xTicks: xTicksA, xLabels: xLabelsA, yTicks: yTicksA, yLabels: yLabelsA,
    titleX: 238, titleY: 22, letterX: 2, letterY: 28, xTitleX: 231, xTitleY: 341, yTitleX: 33, yTitleY: 176,
    cut: "#f29c9c",
    labels: { CRB: [11.6, 15.7, "start"], VAL1: [-12.4, -14.3, "end"], ATBMI1A: [5.6, -4.4, "start"] } },
  { key: "B", data: pointsB, title: titles[1], left: 457.3, right: 778.3, top: 20, bottom: 299,
    xDom: [-1.506, 2.38], yDom: [-0.78, 15.95], xTicks: xTicksB, xLabels: xLabelsB, yTicks: yTicksB, yLabels: yLabelsB,
    titleX: 621, titleY: 22, letterX: 402, letterY: 27, xTitleX: 616, xTitleY: 341, yTitleX: 433, yTitleY: 171,
    cut: null,
    labels: { CRB: [28.7, -13, "start", [7.7, -3, 28.7, -19]] } },
  { key: "C", data: pointsC, title: titles[2], left: 61.7, right: 390.7, top: 375, bottom: 653.3,
    xDom: [-3.25, 9.7], yDom: [-0.425, 10.32], xTicks: xTicksC, xLabels: xLabelsC, yTicks: yTicksC, yLabels: yLabelsC,
    titleX: 218, titleY: 379, letterX: 2, letterY: 378, xTitleX: 230, xTitleY: 695, yTitleX: 23, yTitleY: 522,
    cut: "#df8c92",
    labels: { VAL1: [4, -6.3, "end"], ATBMI1A: [3.3, -4, "start"] } },
  { key: "D", data: pointsD, title: titles[3], left: 455.7, right: 795, top: 378.3, bottom: 657.7,
    xDom: [-3.13, 9.08], yDom: [-0.434, 8.9], xTicks: xTicksD, xLabels: xLabelsD, yTicks: yTicksD, yLabels: yLabelsD,
    titleX: 624, titleY: 380, letterX: 402, letterY: 378, xTitleX: 625, xTitleY: 700, yTitleX: 428, yTitleY: 522,
    cut: "#dc3f45",
    labels: { VAL1: [4, -11, "end"], ATBMI1A: [4.7, -2.3, "start"] } },
  { key: "E", data: pointsE, title: titles[4], left: 62.7, right: 406.7, top: 732.7, bottom: 1011.7,
    xDom: [-2.96, 9.02], yDom: [-0.374, 7.83], xTicks: xTicksE, xLabels: xLabelsE, yTicks: yTicksE, yLabels: yLabelsE,
    titleX: 231, titleY: 734, letterX: 3, letterY: 732, xTitleX: 234, xTitleY: 1055, yTitleX: 38, yTitleY: 876,
    cut: "#e8525c",
    labels: { VAL1: [-4.3, -8, "end"], ATBMI1A: [4.4, -5.3, "start"] } }
];

const svg = d3.select("#fig");
const size = d3.scaleSqrt().domain([0, 400]).range([0, 20]);
const color = d3.scaleSequential(d3.interpolateMagma).domain([0, 1]);
const cutY = -Math.log2(pCutoff);

function styleAxis(g) {
  g.attr("font-family", FONT).attr("font-size", 20);
  g.select(".domain").attr("stroke", "#2b2b2b").attr("stroke-width", 1.1);
  g.selectAll(".tick line").attr("stroke", "#2b2b2b").attr("stroke-width", 1.1);
  g.selectAll(".tick text").attr("fill", "#000");
}

panels.forEach(p => {
  const x = d3.scaleLinear().domain(p.xDom).range([p.left, p.right]);
  const y = d3.scaleLinear().domain(p.yDom).range([p.bottom, p.top]);
  const g = svg.append("g");

  const clipId = "clip" + p.key;
  svg.append("clipPath").attr("id", clipId).append("rect")
    .attr("x", p.left).attr("y", p.top)
    .attr("width", p.right - p.left).attr("height", p.bottom - p.top);

  // points, big ones underneath
  const pts = p.data.slice().sort((a, b) => b[2] - a[2]);
  g.append("g").attr("clip-path", `url(#${clipId})`)
    .selectAll("circle").data(pts).join("circle")
    .attr("cx", d => x(d[0]))
    .attr("cy", d => y(d[1]))
    .attr("r", d => size(d[2]))
    .attr("fill", d => color(d[3]))
    .attr("fill-opacity", 0.55)
    .attr("stroke", "#000")
    .attr("stroke-width", 0.55)
    .attr("stroke-opacity", 0.8);

  // significance cut-off
  if (p.cut) {
    g.append("line")
      .attr("x1", p.left).attr("x2", p.right)
      .attr("y1", y(cutY)).attr("y2", y(cutY))
      .attr("stroke", p.cut).attr("stroke-width", 1.3)
      .attr("stroke-dasharray", "14,12");
  }

  // gene labels
  p.data.filter(d => d[4]).forEach(d => {
    const lab = p.labels[d[4]];
    if (!lab) return;
    const px = x(d[0]), py = y(d[1]);
    if (lab[3]) {
      g.append("line")
        .attr("x1", px + lab[3][0]).attr("y1", py + lab[3][1])
        .attr("x2", px + lab[3][2]).attr("y2", py + lab[3][3])
        .attr("stroke", "#000").attr("stroke-width", 1);
    }
    g.append("text")
      .attr("x", px + lab[0]).attr("y", py + lab[1])
      .attr("text-anchor", lab[2])
      .attr("font-family", FONT).attr("font-size", 16)
      .text(d[4]);
  });

  // axes
  g.append("g").attr("transform", `translate(0,${p.bottom})`)
    .call(d3.axisBottom(x).tickValues(p.xTicks).tickFormat((d, i) => p.xLabels[i])
      .tickSize(4).tickSizeOuter(0).tickPadding(4))
    .call(styleAxis);
  g.append("g").attr("transform", `translate(${p.left},0)`)
    .call(d3.axisLeft(y).tickValues(p.yTicks).tickFormat((d, i) => p.yLabels[i])
      .tickSize(3).tickSizeOuter(0).tickPadding(2))
    .call(styleAxis);

  // titles
  g.append("text").attr("x", p.titleX).attr("y", p.titleY)
    .attr("text-anchor", "middle").attr("font-family", FONT).attr("font-size", 23)
    .text(p.title);
  g.append("text").attr("x", p.letterX).attr("y", p.letterY)
    .attr("font-family", FONT).attr("font-size", 30).attr("font-weight", "bold")
    .text(p.key);
  g.append("text").attr("x", p.xTitleX).attr("y", p.xTitleY)
    .attr("text-anchor", "middle").attr("font-family", FONT).attr("font-size", 23)
    .text("Fold change");
  const yt = g.append("text")
    .attr("transform", `translate(${p.yTitleX},${p.yTitleY}) rotate(-90)`)
    .attr("text-anchor", "middle").attr("font-family", FONT).attr("font-size", 23);
  yt.append("tspan").text("-log2 T-test ");
  yt.append("tspan").attr("font-style", "italic").text("P");
  yt.append("tspan").text("-value");
});
</script>
</body>
</html>
